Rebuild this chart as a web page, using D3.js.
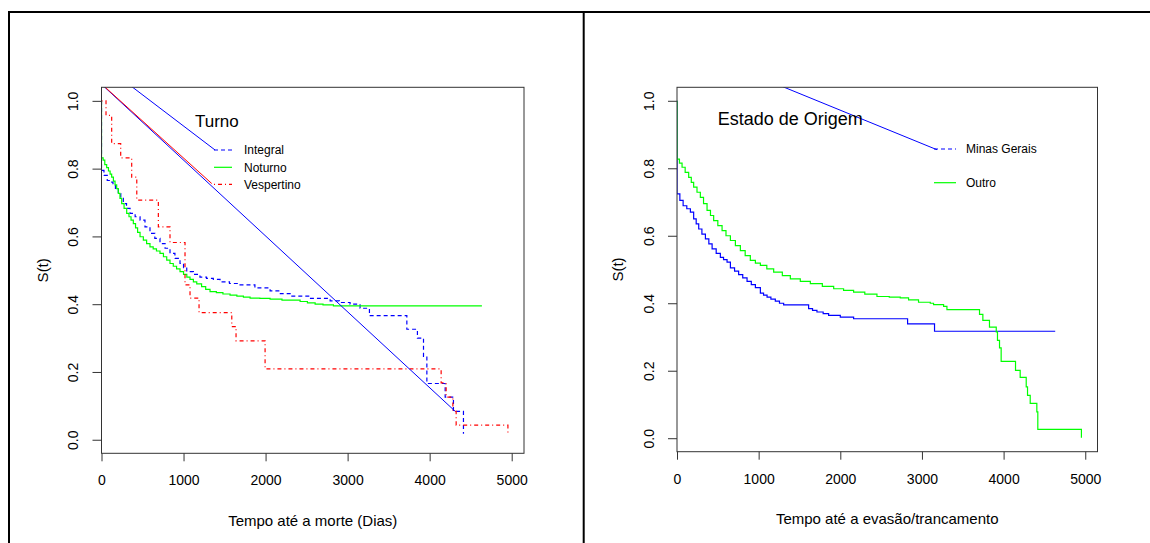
<!DOCTYPE html>
<html>
<head>
<meta charset="utf-8">
<script src="https://cdn.jsdelivr.net/npm/d3@7"></script>
<style>
body { margin: 0; background: #fff; }
text { font-family: "Liberation Sans", Arial, sans-serif; fill: #000; }
</style>
</head>
<body>
<svg id="chart" width="1150" height="543"></svg>
<script>
// tick values
var xTicks = [0, 1000, 2000, 3000, 4000, 5000];
var yTicks = [0, 0.2, 0.4, 0.6, 0.8, 1.0];

// Turno: [tempo, S(t)]
var integral = [[0,1],[0,0.795],[30,0.78],[70,0.765],[105,0.76],[140,0.753],[170,0.74],[205,0.726],[235,0.712],
  [266,0.697],[305,0.683],[348,0.668],[410,0.658],[470,0.648],[530,0.628],[591,0.609],[650,0.594],[713,0.579],
  [775,0.565],[835,0.55],[895,0.535],[957,0.52],[1000,0.508],[1039,0.496],[1120,0.488],[1200,0.48],[1280,0.476],
  [1363,0.473],[1445,0.466],[1560,0.461],[1689,0.457],[1870,0.448],[2055,0.439],[2180,0.431],[2299,0.424],
  [2540,0.417],[2787,0.41],[2900,0.405],[3030,0.40],[3152,0.388],[3266,0.366],[3722,0.326],[3851,0.30],
  [3925,0.246],[3966,0.166],[4189,0.126],[4290,0.084],[4412,0.018]];
var noturno = [[0,1],[0,0.832],[20,0.825],[40,0.812],[63,0.803],[85,0.793],[105,0.784],[124,0.775],[145,0.763],
  [165,0.752],[185,0.741],[205,0.727],[225,0.712],[246,0.697],[275,0.683],[307,0.668],[335,0.658],[360,0.648],
  [388,0.638],[415,0.625],[440,0.612],[470,0.599],[510,0.589],[550,0.579],[591,0.569],[630,0.563],[670,0.557],
  [713,0.55],[755,0.54],[795,0.53],[835,0.52],[875,0.512],[915,0.504],[957,0.496],[1000,0.488],[1040,0.48],
  [1079,0.473],[1120,0.466],[1161,0.46],[1220,0.452],[1270,0.444],[1323,0.437],[1400,0.434],[1480,0.43],
  [1567,0.427],[1650,0.424],[1730,0.421],[1811,0.418],[1930,0.417],[2055,0.415],[2200,0.412],[2421,0.408],
  [2510,0.404],[2604,0.40],[2700,0.398],[2827,0.395],[4637,0.395]];
var vespertino = [[0,1],[55,0.957],[124,0.874],[234,0.832],[368,0.775],[430,0.707],[693,0.628],[835,0.582],
  [1018,0.457],[1079,0.418],[1189,0.375],[1588,0.334],[1640,0.292],[1994,0.209],[4140,0.168],[4201,0.126],
  [4283,0.084],[4323,0.043],[4954,0.02]];

// Estado de Origem
var minasGerais = [[0,1],[0,0.724],[35,0.705],[75,0.689],[120,0.68],[164,0.67],[204,0.65],[235,0.635],[266,0.62],
  [305,0.605],[348,0.591],[390,0.576],[430,0.561],[480,0.548],[531,0.536],[570,0.529],[613,0.522],[654,0.505],
  [705,0.495],[755,0.485],[805,0.475],[858,0.465],[910,0.455],[960,0.446],[1021,0.43],[1060,0.424],[1103,0.418],
  [1150,0.412],[1204,0.406],[1255,0.40],[1306,0.395],[1612,0.384],[1660,0.379],[1714,0.374],[1790,0.369],
  [1857,0.364],[2000,0.359],[2163,0.354],[2824,0.339],[3154,0.317],[4632,0.317]];
var outro = [[0,1],[0,0.827],[30,0.815],[62,0.803],[100,0.788],[143,0.773],[175,0.758],[204,0.744],[245,0.729],
  [286,0.714],[325,0.695],[368,0.675],[410,0.66],[449,0.645],[500,0.63],[552,0.615],[600,0.60],[654,0.586],
  [715,0.571],[776,0.556],[835,0.541],[898,0.527],[960,0.519],[1021,0.512],[1100,0.502],[1184,0.492],[1290,0.482],
  [1388,0.472],[1510,0.465],[1633,0.458],[1780,0.45],[1919,0.443],[2040,0.438],[2163,0.433],[2300,0.427],
  [2449,0.42],[2600,0.418],[2734,0.416],[2836,0.41],[2958,0.403],[3102,0.40],[3142,0.396],[3265,0.391],
  [3306,0.381],[3705,0.367],[3746,0.349],[3827,0.329],[3910,0.315],[3925,0.29],[3950,0.268],[3970,0.228],
  [4146,0.201],[4203,0.18],[4277,0.152],[4293,0.127],[4326,0.103],[4407,0.078],[4419,0.026],[4953,0.001]];

// the stray straight lines running into the legends
var linhasTurno = [
  {de: [0, 1.11], ate: [1384, 0.855], cor: "#0000ff"},
  {de: [0, 1.049], ate: [4311, 0.084], cor: "#0000ff"},
  {de: [0, 1.05], ate: [1344, 0.756], cor: "#ff0000"}
];
var linhasOrigem = [
  {de: [0, 1.17], ate: [3184, 0.855], cor: "#0000ff"}
];

var svg = d3.select("#chart");
svg.append("rect").attr("width", 1150).attr("height", 543).attr("fill", "#fff");

// outer frame (table borders)
svg.append("path").attr("d", "M8,12H1150M9,12V543M583.7,12V543")
  .attr("stroke", "#000").attr("stroke-width", 2).attr("fill", "none");

var paineis = [
  {
    id: "turno", left: 101.5, right: 524, top: 87.3, bottom: 453.3,
    titulo: "Turno", tituloX: 195, tituloY: 121, tituloSize: 17,
    xlab: "Tempo até a morte (Dias)", xlabY: 521, ylabX: 43,
    series: [
      {nome: "Integral", dados: integral, cor: "#0000ff", dash: "4,3"},
      {nome: "Noturno", dados: noturno, cor: "#00ff00", dash: null},
      {nome: "Vespertino", dados: vespertino, cor: "#ff0000", dash: "1,3,4,3"}
    ],
    linhas: linhasTurno,
    legenda: {x1: 214, x2: 232, tx: 244, ys: [150, 167.3, 184.3]}
  },
  {
    id: "origem", left: 677, right: 1097.5, top: 87.3, bottom: 451.7,
    titulo: "Estado de Origem", tituloX: 717.7, tituloY: 118.5, tituloSize: 18,
    xlab: "Tempo até a evasão/trancamento", xlabY: 519, ylabX: 618,
    series: [
      {nome: "Minas Gerais", dados: minasGerais, cor: "#0000ff", dash: null, legDash: "4,3"},
      {nome: "Outro", dados: outro, cor: "#00ff00", dash: null}
    ],
    linhas: linhasOrigem,
    legenda: {x1: 934, x2: 956, tx: 966, ys: [149, 182.7]}
  }
];

paineis.forEach(desenha);

function desenha(p) {
  var x = d3.scaleLinear().domain([0, 5150]).range([p.left, p.right]);
  var y = d3.scaleLinear().domain([-0.04, 1.04]).range([p.bottom, p.top]);

  var g = svg.append("g");

  g.append("clipPath").attr("id", "clip-" + p.id)
    .append("rect").attr("x", p.left).attr("y", p.top)
    .attr("width", p.right - p.left).attr("height", p.bottom - p.top);

  var plot = g.append("g").attr("clip-path", "url(#clip-" + p.id + ")");

  var line = d3.line()
    .x(function(d) { return x(d[0]); })
    .y(function(d) { return y(d[1]); })
    .curve(d3.curveStepAfter);

  p.series.forEach(function(s) {
    plot.append("path")
      .attr("d", line(s.dados))
      .attr("fill", "none")
      .attr("stroke", s.cor)
      .attr("stroke-width", 1.2)
      .attr("stroke-dasharray", s.dash);
  });

  p.linhas.forEach(function(l) {
    plot.append("line")
      .attr("x1", x(l.de[0])).attr("y1", y(l.de[1]))
      .attr("x2", x(l.ate[0])).attr("y2", y(l.ate[1]))
      .attr("stroke", l.cor).attr("stroke-width", 1);
  });

  // box
  g.append("rect")
    .attr("x", p.left).attr("y", p.top)
    .attr("width", p.right - p.left).attr("height", p.bottom - p.top)
    .attr("fill", "none").attr("stroke", "#333").attr("stroke-width", 1);

  // axes
  var xa = g.append("g")
    .attr("transform", "translate(0," + p.bottom + ")")
    .call(d3.axisBottom(x).tickValues(xTicks).tickFormat(d3.format("d")).tickSize(8).tickPadding(14));
  xa.select(".domain").remove();
  xa.selectAll("text").attr("font-size", 14).attr("font-family", null);

  var ya = g.append("g")
    .attr("transform", "translate(" + p.left + ",0)")
    .call(d3.axisLeft(y).tickValues(yTicks).tickFormat(d3.format(".1f")).tickSize(9));
  ya.select(".domain").remove();
  ya.selectAll("text")
    .attr("x", null).attr("dy", "0.35em")
    .attr("text-anchor", "middle")
    .attr("transform", "translate(-28,0) rotate(-90)")
    .attr("font-size", 14).attr("font-family", null);
  g.selectAll(".tick line").attr("stroke", "#333");

  // axis titles
  g.append("text")
    .attr("x", (p.left + p.right) / 2).attr("y", p.xlabY)
    .attr("dy", "0.35em").attr("text-anchor", "middle")
    .attr("font-size", 15).text(p.xlab);
  g.append("text")
    .attr("transform", "translate(" + p.ylabX + "," + ((p.top + p.bottom) / 2) + ") rotate(-90)")
    .attr("dy", "0.35em").attr("text-anchor", "middle")
    .attr("font-size", 15).text("S(t)");

  // title
  g.append("text")
    .attr("x", p.tituloX).attr("y", p.tituloY)
    .attr("dy", "0.35em").attr("font-size", p.tituloSize).text(p.titulo);

  // legend
  var leg = p.legenda;
  p.series.forEach(function(s, i) {
    g.append("line")
      .attr("x1", leg.x1).attr("x2", leg.x2)
      .attr("y1", leg.ys[i]).attr("y2", leg.ys[i])
      .attr("stroke", s.cor).attr("stroke-width", 1.2)
      .attr("stroke-dasharray", s.legDash || s.dash);
    g.append("text")
      .attr("x", leg.tx).attr("y", leg.ys[i])
      .attr("dy", "0.35em").attr("font-size", 12).text(s.nome);
  });
}
</script>
</body>
</html>
